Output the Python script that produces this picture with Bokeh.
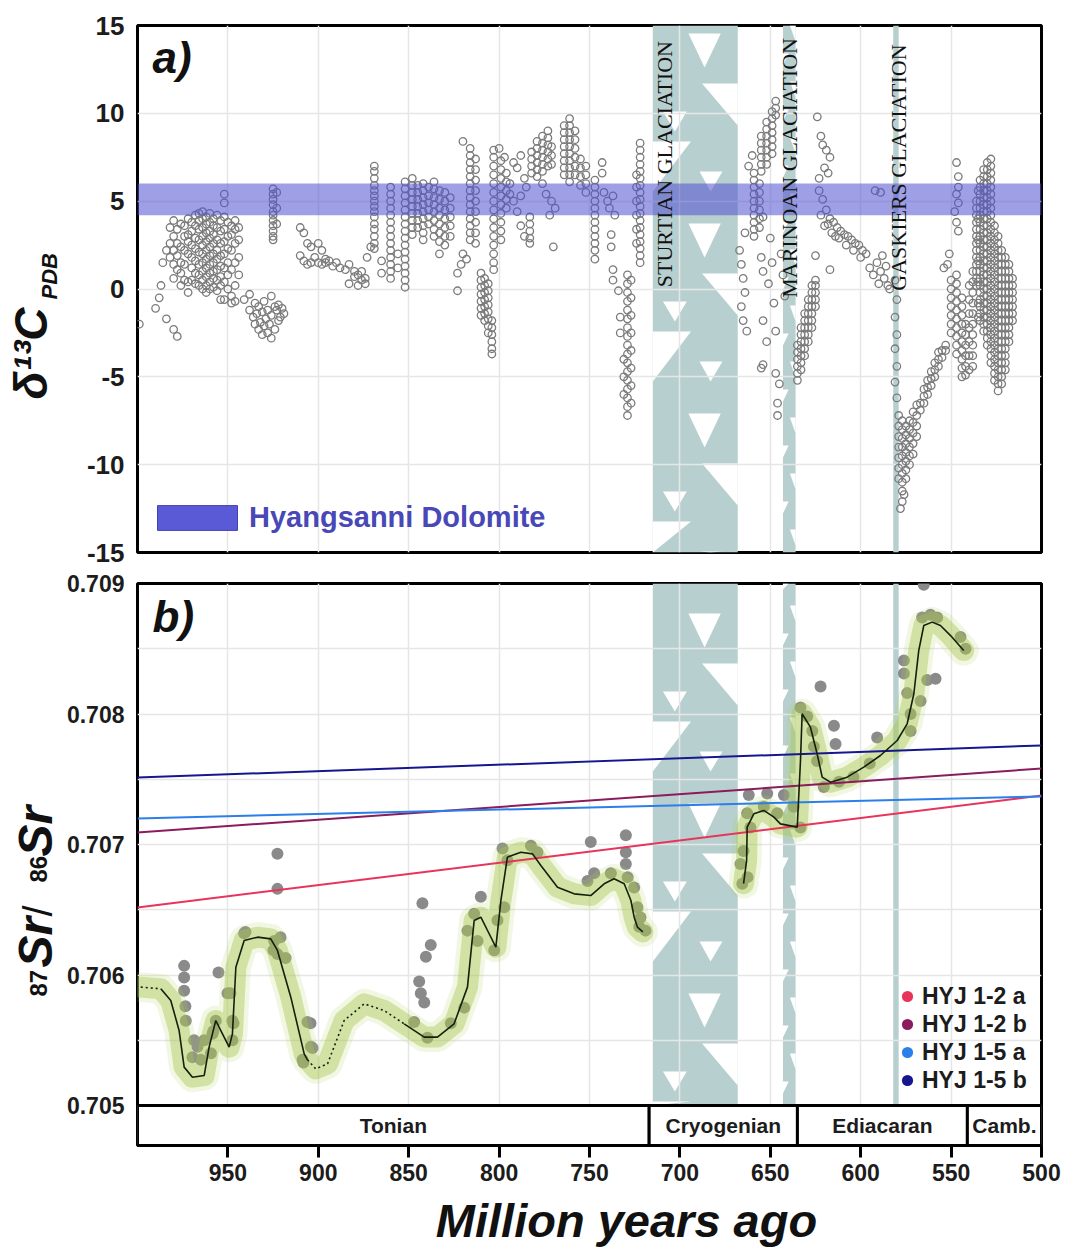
import math
import numpy as np
from bokeh.plotting import figure
from bokeh.layouts import column, row
from bokeh.models import Range1d, FixedTicker, Label, Legend, LegendItem
from bokeh.core.properties import value
from bokeh.embed import file_html
from bokeh.resources import INLINE

SANS = "Liberation Sans"
SERIF = "Liberation Serif"

# ---------------------------------------------------------------- axes / scale
AGE_OLD, AGE_YOUNG = 1000, 500
X_TICKS = [950, 900, 850, 800, 750, 700, 650, 600, 550, 500]
X_GRID = [950, 900, 850, 800, 750, 700, 650, 600, 550]
D13C_TICKS = [-15, -10, -5, 0, 5, 10, 15]
D13C_GRID = [-10, -5, 0, 5, 10]
SR_TICKS = [0.705, 0.706, 0.707, 0.708, 0.709]
SR_GRID = [0.7055, 0.706, 0.7065, 0.707, 0.7075, 0.708, 0.7085]
SR_MIN, SR_MAX = 0.705, 0.709
SR_AXIS_MIN = 0.7046935          # extra room under 0.705 for the time scale

# ---------------------------------------------------------------- time scale
PERIOD_NAMES = ["Tonian", "Cryogenian", "Ediacaran", "Camb."]
PERIOD_OLD = [1000, 717, 635, 541]
PERIOD_YOUNG = [717, 635, 541, 500]

# ---------------------------------------------------------------- glaciations
GLAC_NAMES = ["STURTIAN  GLACIATION", "MARINOAN  GLACIATION", "GASKIERS  GLACIATION"]
GLAC_OLD = [715, 643, 582]
GLAC_YOUNG = [668, 636, 579]
GLAC_LABEL_AGE = [708.5, 639.4, 579.2]
GLAC_LABEL_D13C = [0.1, -0.5, -0.1]

# ---------------------------------------------------------------- Hyangsanni Dolomite range
HYANGSANNI_LOW, HYANGSANNI_HIGH = 4.2, 6.0

# ---------------------------------------------------------------- d13C compilation (age, values)
D13C_COLUMNS = [
    (999, [-2.0]), (990, [-1.1]), (988, [-0.5]), (987, [0.2]), (986, [1.5]),
    (984, [-1.7, 2.2]), (982, [3.5, 2.6, 1.8]),
    (980, [3.9, 3.0, 2.2, 1.4, 0.6, -2.3]), (978, [3.4, 2.6, 1.9, 1.1, -2.7]),
    (976, [3.7, 2.4, 1.5, 0.9, 0.2]), (974, [3.6, 3.0, 2.2, 1.4, 0.5]),
    (972, [4.0, 3.1, 2.7, 2.0, 0.4, -0.2]), (970, [3.8, 3.3, 2.5, 1.8, 1.2, 0.5]),
    (968, [4.2, 3.6, 2.9, 2.3, 1.6, 0.9, 0.3]),
    (966, [4.3, 3.9, 3.4, 2.8, 2.1, 1.4, 0.8, 0.2]),
    (964, [4.4, 4.0, 3.5, 3.0, 2.5, 2.0, 1.5, 1.0, 0.5, 0.0]),
    (962, [4.1, 3.7, 3.2, 2.7, 2.2, 1.7, 1.2, 0.7, 0.2, -0.2]),
    (960, [4.3, 3.8, 3.3, 2.9, 2.4, 1.9, 1.4, 0.9, 0.4, 0.0]),
    (958, [4.0, 3.6, 3.1, 2.6, 2.0, 1.5, 1.0, 0.6, 0.1]),
    (956, [4.2, 3.5, 2.8, 2.2, 1.7, 1.1, 0.5, -0.1]),
    (954, [3.9, 3.3, 2.6, 1.9, 1.3, 0.7, 0.2, -0.6]),
    (952, [5.4, 4.9, 4.1, 3.4, 2.7, 2.0, 1.2, 0.4, -0.6]),
    (950, [3.8, 3.0, 2.3, 1.5, 0.8, 0.0]), (948, [3.6, 3.1, 2.2, 1.1, -0.4, -0.8]),
    (946, [3.9, 3.4, 2.6, 1.5, 0.2, -0.7]), (944, [3.5, 2.8, 1.8, 0.8]),
    (941, [-0.6]), (938, [-1.2, -0.3]), (936, [-1.6]), (935, [-2.0, -0.8]), (934, [-1.4]),
    (933, [-2.3, -1.0]), (932, [-1.9]), (931, [-2.6, -1.3]), (930, [-2.1, -0.7]),
    (929, [-1.7]), (928, [-2.5, -1.2]), (927, [-2.0]), (926, [-2.8, -0.4, -1.5]),
    (925, [5.7, 5.4, 5.1, 4.8, 4.4, 4.2, 3.9, 3.6, 3.3, 3.0, 2.8]),
    (924, [-2.3, -1.0]), (923, [5.5, 4.6, 3.7, -1.2]), (922, [-0.9, -1.8]),
    (921, [-1.6]), (920, [-1.1]), (919, [-1.4]),
    (910, [3.5, 1.9]), (908, [3.2, 1.6]), (906, [2.6, 1.4]), (904, [2.4, 1.5]), (902, [1.8]),
    (900, [2.6, 1.5]), (898, [2.2, 1.4]), (896, [1.7, 1.5]), (894, [1.6]), (892, [1.3]),
    (890, [1.5]), (888, [1.2]), (885, [1.1]), (883, [0.3, 1.4]), (880, [0.7, 1.0]),
    (878, [0.2, 0.8]), (876, [1.0, 0.5]), (874, [0.6, 0.3]), (873, [1.8]), (871, [2.4]),
    (869, [7.0, 6.7, 6.3, 5.9, 5.6, 5.3, 5.0, 4.7, 4.4, 4.1, 3.7, 3.4, 3.0, 2.6, 2.3]),
    (865, [0.9, 1.6]),
    (860, [5.8, 5.4, 5.0, 4.6, 4.2, 3.8, 3.4, 3.0, 2.6, 2.2, 1.8, 1.4, 1.0, 0.6]),
    (856, [1.2, 2.0]),
    (852, [6.1, 5.7, 5.3, 4.9, 4.5, 4.1, 3.7, 3.3, 2.9, 2.5, 2.1, 1.7, 1.3, 0.9, 0.5, 0.1]),
    (848, [6.3, 5.9, 5.5, 5.1, 4.7, 4.3, 3.9, 3.5, 3.1]),
    (845, [5.9, 5.5, 5.1, 4.7, 4.3, 3.9, 3.5]),
    (842, [6.0, 5.6, 5.2, 4.8, 4.4, 4.0, 3.6, 3.2, 2.8]),
    (839, [5.8, 5.3, 4.9, 4.5, 4.1, 3.7]),
    (836, [6.1, 5.7, 5.2, 4.8, 4.4, 3.9, 3.4, 3.0]),
    (833, [5.6, 5.1, 4.6, 4.2, 3.7, 3.2, 2.7, 2.0]),
    (830, [5.5, 5.0, 4.5, 4.0, 3.5, 3.0, 2.5]),
    (827, [5.2, 4.6, 4.1, 3.6, 3.0]),
    (823, [-0.1, 0.9]), (821, [1.4]), (820, [8.4, 2.0]), (818, [1.7]),
    (816, [8.0, 7.6, 7.2, 6.8, 6.4, 6.0, 5.6, 5.2, 4.8, 4.4, 4.0, 3.6, 3.2, 2.8]),
    (813, [7.4, 6.8, 6.2, 5.6, 5.0, 4.4, 3.8, 3.2, 2.6]),
    (810, [0.9, 0.5, 0.1, -0.3, -0.7, -1.1, -1.5]),
    (808, [0.6, 0.2, -0.2, -0.6, -1.0, -1.4, -1.8]),
    (806, [0.3, -0.1, -0.5, -0.9, -1.3, -1.7, -2.1, -2.5]),
    (804, [-1.8, -2.2, -2.6, -3.0, -3.4, -3.7]),
    (803, [7.9, 7.5, 7.0, 6.5, 6.0, 5.5, 5.0, 4.5, 4.0, 3.5, 3.0, 2.5, 2.0, 1.5, 1.1]),
    (800, [8.0]),
    (799, [7.3, 6.8, 6.3, 5.8, 5.3, 4.8, 4.3, 3.8, 3.3, 2.8]),
    (797, [7.5]), (796, [6.6, 6.1, 5.6, 5.1, 4.6]), (794, [6.0, 5.4]), (792, [7.2, 5.0]),
    (790, [6.9, 4.4]), (788, [7.6, 5.3, 3.6]), (786, [6.3, 3.0]), (785, [5.8]),
    (783, [4.1, 3.7, 3.3, 2.9, 2.6]), (782, [7.8, 7.4, 7.0, 6.6]),
    (779, [8.4, 8.0, 7.6, 7.2, 6.8, 6.4]), (776, [8.7, 8.3, 7.9, 7.5, 7.1, 6.7, 6.0]),
    (774, [5.4]), (773, [9.0, 8.6, 8.2, 7.8, 7.4, 7.0]), (772, [4.2]),
    (771, [8.1, 7.6, 7.1, 5.0]), (770, [2.4]), (769, [4.6]),
    (764, [9.3, 8.9, 8.5, 8.1, 7.7, 7.3, 6.9, 6.5]),
    (761, [9.7, 9.3, 8.9, 8.5, 8.1, 7.7, 7.3, 6.9, 6.5, 6.1]),
    (758, [9.0, 8.5, 8.0, 7.5, 7.0, 6.5]), (755, [7.4, 6.9, 6.4, 5.9]),
    (752, [7.0, 6.5, 6.0, 5.5]),
    (747, [6.2, 5.8, 5.4, 5.0, 4.6, 4.2, 3.8, 3.4, 3.0, 2.6, 2.2, 1.7]),
    (743, [7.2, 6.6]), (742, [5.5]), (740, [5.0]), (739, [4.6]), (738, [3.1, 2.4]),
    (737, [5.3, 1.1, 0.5]), (736, [4.2]), (734, [-0.1]), (733, [-1.6, -2.5]),
    (731, [-4.0, -5.0, -6.0]),
    (729, [0.8, 0.3, -0.2, -0.7, -1.2, -1.7, -2.2, -2.7, -3.2, -3.7, -4.2, -4.7, -5.2,
           -5.7, -6.2, -6.7, -7.2]),
    (727, [0.5, -0.5, -1.5, -2.5, -3.5, -4.5, -5.5, -6.5]),
    (724, [6.5, 5.8, 5.0, 4.2, 3.4, 2.6]),
    (722, [8.3, 7.9, 7.5, 7.1, 6.7, 6.3, 5.9, 5.5, 5.1, 4.7, 4.3, 3.9, 3.5, 3.1, 2.7,
           2.3, 1.9, 1.5]),
    (667, [2.2]), (666, [1.4, -1.0]), (665, [0.6, -1.8]), (664, [-0.2, 3.2]), (663, [-2.4]),
    (662, [7.0]), (660, [7.6]),
    (659, [6.6, 6.2, 5.8, 5.4, 5.0, 4.6, 4.2, 3.8, 3.4, 3.0]),
    (656, [6.0, 5.5, 5.0, 4.5, 4.0, 3.5]),
    (655, [8.7, 8.3, 7.9, 7.5, 7.1, 6.7, 1.8, -4.5]), (654, [4.1, 1.0, -1.8, -4.3]),
    (652, [9.5, 9.1, 8.7, 8.3, 7.9, 7.5, 7.1, -3.0]), (651, [0.3]), (650, [2.9]),
    (649, [10.1, 9.7, 9.3, 8.9, 8.5, 8.1, 7.7, 1.5]), (648, [-0.8]),
    (647, [10.7, 10.3, 9.9, -2.4, -4.8]), (646, [-6.5, -7.2]), (645, [-5.4]),
    (644, [2.0]), (643, [0.8]), (642, [-0.4]),
    (635, [-5.2, -4.8, -4.4, -4.0, -3.6, -3.2]),
    (633, [-4.6, -4.2, -3.8, -3.4, -3.0, -2.6, -2.2]),
    (631, [-3.8, -3.4, -3.0, -2.6, -2.2, -1.8, -1.4]),
    (629, [-3.0, -2.6, -2.2, -1.8, -1.4, -1.0, -0.6]),
    (627, [-2.2, -1.8, -1.4, -1.0, -0.6, -0.2, 0.2]),
    (625, [-1.0, -0.6, -0.2, 0.2, 0.5, 1.9]), (624, [9.8]), (623, [6.3, 5.6]),
    (622, [8.7, 4.2]), (621, [8.2, 5.1]), (620, [6.9, 3.6]), (619, [7.9, 4.5]),
    (618, [6.6, 3.7]), (617, [7.5, 4.0, 1.1]), (616, [3.2]), (615, [3.8]), (614, [3.0]),
    (613, [3.5]), (612, [2.9]), (611, [3.3]), (609, [3.1]), (608, [2.5]), (607, [3.0]),
    (605, [2.8]), (604, [2.2]), (603, [2.6]), (601, [2.5]), (600, [1.8]), (599, [2.2]),
    (597, [2.0]), (595, [1.2]), (593, [0.8]), (592, [5.6]), (591, [1.5]), (590, [0.3]),
    (589, [5.5, 1.0]), (588, [1.9]), (587, [0.6]), (586, [1.3]), (585, [0.2]), (584, [0.0]),
    (581, [0.5, -1.6, -3.4, -5.3]), (580, [-0.6, -2.6, -4.4, -6.2]),
    (579, [-7.2, -7.8, -8.4, -9.0, -9.6, -10.2, -10.8]), (578, [-12.5]),
    (577, [-7.5, -8.0, -8.5, -9.0, -9.5, -10.0, -10.5, -11.0, -11.5, -12.1]),
    (576, [-11.7]), (575, [-7.8, -8.3, -8.8, -9.3, -9.8, -10.3, -10.8]),
    (573, [-7.5, -8.0, -8.5, -9.0, -9.5, -10.0]), (571, [-7.0, -7.6, -8.2, -8.8, -9.4]),
    (569, [-6.6, -7.2, -7.8, -8.4]), (567, [-6.9, -6.5]), (565, [-6.5, -6.1, -5.7]),
    (563, [-6.0, -5.6, -5.2]), (561, [-5.5, -5.1, -4.7]), (559, [-5.0, -4.6, -4.2]),
    (557, [-4.4, -4.0, -3.6]), (555, [-3.9, -3.5]), (554, [1.2]), (553, [-3.5, -3.2]),
    (552, [1.4]), (551, [2.0]), (550, [0.5, 0.0, -0.5, -1.0, -1.5, -2.0, -2.5]),
    (548, [4.4]),
    (547, [7.2, 5.4, 3.8, 0.8, 0.3, -0.2, -0.7, -1.2, -1.7, -2.2, -2.7, -3.2, -3.7]),
    (546, [6.4, 5.8, 4.9, 3.3]),
    (544, [-0.5, -1.0, -1.5, -2.0, -2.5, -3.0, -3.5, -4.0, -4.5, -5.0]),
    (542, [-2.0, -2.6, -3.2, -3.8, -4.4, -4.9]),
    (540, [0.2, -0.6, -1.4, -2.2, -3.0, -3.8, -4.6]),
    (538, [1.0, 0.4, -0.2, -0.8, -1.4, -2.0, -2.6, -3.2, -3.8, -4.4]),
    (536, [5.0, 4.6, 4.2, 3.8, 3.4, 3.0, 2.6, 2.2, 1.8, 1.4, 1.0, 0.6, 0.2]),
    (535, [5.6, 4.0, 2.8, 1.6, 0.4, -0.8, -1.6]),
    (534, [6.2, 5.8, 5.4, 5.0, 4.6, 4.2, 3.8, 3.4, 3.0, 2.6, 2.2, 1.8, 1.4, 1.0, 0.6, 0.2,
           -0.2, -0.6, -1.0, -1.4, -1.8]),
    (532, [6.8, 6.4, 6.0, 5.6, 5.2, 4.8, 4.4, 4.0, 3.6, 3.2, 2.8, 2.4, 2.0, 1.6, 1.2, 0.8,
           0.4, 0.0, -0.4, -0.8, -1.2, -1.6, -2.0, -2.4]),
    (530, [7.2, 6.8, 6.4, 6.0, 5.6, 5.2, 4.8, 4.4, 4.0, 3.6, 3.2, 2.8, 2.4, 2.0, 1.6, 1.2,
           0.8, 0.4, 0.0, -0.4, -0.8, -1.2, -1.6, -2.0, -2.4, -2.8, -3.2]),
    (528, [7.4, 7.0, 6.6, 6.2, 5.8, 5.4, 5.0, 4.6, 4.2, 3.8, 3.4, 3.0, 2.6, 2.2, 1.8, 1.4,
           1.0, 0.6, 0.2, -0.2, -0.6, -1.0, -1.4, -1.8, -2.2, -2.6, -3.0, -3.4, -3.8, -4.2]),
    (526, [3.6, 3.2, 2.8, 2.4, 2.0, 1.6, 1.2, 0.8, 0.4, 0.0, -0.4, -0.8, -1.2, -1.6, -2.0,
           -2.4, -2.8, -3.2, -3.6, -4.0, -4.4, -4.8, -5.2]),
    (524, [3.0, 2.6, 2.2, 1.8, 1.4, 1.0, 0.6, 0.2, -0.2, -0.6, -1.0, -1.4, -1.8, -2.2, -2.6,
           -3.0, -3.4, -3.8, -4.2, -4.6, -5.0, -5.4, -5.8]),
    (522, [2.2, 1.8, 1.4, 1.0, 0.6, 0.2, -0.2, -0.6, -1.0, -1.4, -1.8, -2.2, -2.6, -3.0,
           -3.4, -3.8, -4.2, -4.6, -5.0, -5.4]),
    (520, [1.8, 1.4, 1.0, 0.6, 0.2, -0.2, -0.6, -1.0, -1.4, -1.8, -2.2, -2.6, -3.0, -3.4,
           -3.8, -4.2, -4.6]),
    (518, [1.4, 1.0, 0.6, 0.2, -0.2, -0.6, -1.0, -1.4, -1.8, -2.2, -2.6, -3.0]),
    (516, [0.6, 0.2, -0.2, -0.6, -1.0, -1.4, -1.8]),
]

# ---------------------------------------------------------------- 87Sr/86Sr compilation
SR_POINTS = [
    (974.2, 0.70607), (974.2, 0.70598), (974.2, 0.70588), (973.5, 0.70576), (973.3, 0.70565),
    (968.7, 0.70550), (966.8, 0.70545), (969.6, 0.70537), (965.0, 0.70535), (963.1, 0.70550),
    (959.4, 0.70540), (958.5, 0.70555), (958.0, 0.70557), (956.7, 0.70565), (955.2, 0.70602),
    (950.2, 0.70586), (948.6, 0.70586), (947.5, 0.70565), (946.9, 0.70563), (947.5, 0.70550),
    (941.0, 0.70632), (940.3, 0.70633), (924.8, 0.70619), (924.4, 0.70626), (922.6, 0.70616),
    (920.9, 0.70629), (918.1, 0.70613), (922.6, 0.70693), (922.6, 0.70666), (908.2, 0.70533),
    (906.0, 0.70564), (904.3, 0.70563), (904.1, 0.70545), (903.2, 0.70544), (908.7, 0.70535),
    (842.4, 0.70655), (837.8, 0.70623), (840.5, 0.70614), (844.2, 0.70595), (843.3, 0.70586),
    (841.4, 0.70579), (847.0, 0.70564), (839.6, 0.70552), (826.7, 0.70563), (819.3, 0.70575),
    (817.5, 0.70634), (813.8, 0.70647), (810.1, 0.70660), (811.9, 0.70626), (802.7, 0.70619),
    (800.9, 0.70642), (797.2, 0.70652), (798.1, 0.70697), (795.4, 0.70688), (782.4, 0.70699),
    (778.8, 0.70694), (751.1, 0.70672), (749.3, 0.70702), (747.4, 0.70678), (738.2, 0.70678),
    (729.9, 0.70707), (729.9, 0.70694), (729.9, 0.70685), (728.9, 0.70675), (725.3, 0.70667),
    (723.5, 0.70652), (722.5, 0.70637), (721.8, 0.70644), (719.0, 0.70634),
    (664.8, 0.70695), (666.5, 0.70685), (662.6, 0.70675), (665.5, 0.70670), (662.8, 0.70724),
    (661.0, 0.70713), (653.6, 0.70729), (646.2, 0.70724), (637.0, 0.70729), (633.3, 0.70713),
    (661.9, 0.70738), (651.7, 0.70739), (642.5, 0.70738), (633.3, 0.70805), (629.6, 0.70798),
    (626.8, 0.70787), (625.9, 0.70775), (624.1, 0.70764), (620.4, 0.70744), (622.2, 0.70821),
    (614.8, 0.70791), (613.9, 0.70777), (590.9, 0.70782), (576.1, 0.70841), (576.1, 0.70831),
    (574.3, 0.70816), (572.4, 0.70800), (572.4, 0.70787), (566.9, 0.70810), (563.2, 0.70826),
    (566.0, 0.70874), (561.4, 0.70876), (557.7, 0.70874), (544.8, 0.70859), (542.0, 0.70850),
    (565.1, 0.70899), (558.6, 0.70827), (612.0, 0.70748), (604.0, 0.70752), (595.0, 0.70762),
]

# smoothed seawater curve, pre-Sturtian part and post-Sturtian part
CURVE_PRE = [
    (998.2, 0.705907), (987.1, 0.705894), (981.6, 0.705805), (977.0, 0.705575),
    (974.2, 0.705294), (969.6, 0.705217), (963.1, 0.705230), (960.4, 0.705447),
    (956.7, 0.705651), (953.0, 0.705549), (949.3, 0.705447), (947.5, 0.705549),
    (945.6, 0.706060), (941.0, 0.706264), (933.6, 0.706290), (926.3, 0.706277),
    (922.6, 0.706188), (915.2, 0.705830), (907.8, 0.705396), (906.0, 0.705350),
    (901.4, 0.705281), (894.9, 0.705319), (885.7, 0.705651), (874.6, 0.705779),
    (863.6, 0.705728), (852.5, 0.705626), (841.4, 0.705524), (834.1, 0.705524),
    (824.9, 0.705626), (817.5, 0.705907), (813.8, 0.706417), (810.1, 0.706443),
    (806.4, 0.706341), (801.8, 0.706213), (799.0, 0.706571), (795.4, 0.706903),
    (788.0, 0.706941), (781.5, 0.706928), (776.9, 0.706839), (767.7, 0.706673),
    (758.5, 0.706622), (749.3, 0.706609), (741.9, 0.706699), (736.4, 0.706737),
    (730.8, 0.706699), (727.1, 0.706571), (725.3, 0.706443), (723.5, 0.706367),
    (720.5, 0.706330),
]
CURVE_POST = [
    (664.8, 0.706700), (663.1, 0.706877), (662.8, 0.707133), (659.1, 0.707235),
    (653.6, 0.707261), (648.0, 0.707210), (644.4, 0.707158), (635.1, 0.707133),
    (633.3, 0.707644), (632.4, 0.708002), (627.8, 0.707899), (624.1, 0.707695),
    (621.3, 0.707516), (616.7, 0.707477), (607.5, 0.707516), (598.3, 0.707593),
    (589.1, 0.707682), (579.8, 0.707797), (574.3, 0.707925), (570.6, 0.708155),
    (567.9, 0.708486), (565.1, 0.708678), (560.5, 0.708704), (555.9, 0.708678),
    (550.3, 0.708601), (543.0, 0.708486),
]
# age intervals where the curve is poorly constrained (dotted)
DOTTED_SPANS = [(998.2, 987.1), (906.0, 852.5)]

# Hyangsanni samples: age-corrected initial ratios at 1000 and 500 Ma
SAMPLE_NAMES = ["HYJ 1-2 a", "HYJ 1-2 b", "HYJ 1-5 a", "HYJ 1-5 b"]
SAMPLE_COLORS = ["#e8345c", "#8a1b5c", "#2b7fe8", "#16168f"]
SAMPLE_AT_OLD = [0.706517, 0.707092, 0.707200, 0.707513]
SAMPLE_AT_YOUNG = [0.707375, 0.707582, 0.707368, 0.707759]

# ---------------------------------------------------------------- layout
LABEL_W = 62                 # strip holding the vertical axis titles
AXIS_W = 137 - LABEL_W       # room for the tick labels
FRAME_W = 904
A_H, B_H = 527, 562
A_TOTAL = 25 + A_H + 15
B_TOTAL = 16 + B_H + 48
TITLE_H = 1252 - A_TOTAL - B_TOTAL
BAND_FILL = "#b8cfcf"
GRID_COLOR = "#e6e6e6"

# white diamictite symbols drawn inside the glaciation bands (u across band, px down)
STURT_MOTIF = [
    ([0.42, 0.80, 0.61], [8, 8, 42]),
    ([0.58, 1.00, 1.00], [58, 58, 100]),
    ([0.12, 0.40, 0.26], [86, 86, 106]),
    ([0.00, 0.45, 0.00], [116, 116, 166]),
    ([0.55, 0.82, 0.68], [146, 146, 166]),
]
MARIN_MOTIF = [
    ([0.55, 1.00, 1.00], [0, 0, 16]),
    ([0.00, 0.45, 0.00], [28, 28, 40]),
]


def band_marks(old, young, top, px_per_unit, height_px, period, phase, motif):
    xs, ys = [], []
    k = -1
    while phase + k * period <= height_px:
        base = phase + k * period
        for us, ds in motif:
            dd = [base + d for d in ds]
            if max(dd) < 0 or min(dd) > height_px:
                continue
            dd = [min(max(d, 0), height_px) for d in dd]
            xs.append([old - u * (old - young) for u in us])
            ys.append([top - d / px_per_unit for d in dd])
        k += 1
    return xs, ys


def draw_glaciations(p, top, bottom, px_per_unit, height_px, phase):
    p.quad(left=GLAC_OLD, right=GLAC_YOUNG, top=[top] * 3, bottom=[bottom] * 3,
           fill_color=BAND_FILL, line_color=None, level="image")
    xs, ys = band_marks(GLAC_OLD[0], GLAC_YOUNG[0], top, px_per_unit, height_px, 190, phase,
                        STURT_MOTIF)
    xs2, ys2 = band_marks(GLAC_OLD[1], GLAC_YOUNG[1], top, px_per_unit, height_px, 56, phase,
                          MARIN_MOTIF)
    p.patches(xs + xs2, ys + ys2, fill_color="white", line_color=None, level="image")


def style(p):
    p.outline_line_color = "black"
    p.outline_line_width = 3
    p.background_fill_color = "white"
    p.border_fill_color = "white"
    p.grid.grid_line_color = GRID_COLOR
    p.grid.grid_line_width = 1.5
    p.yaxis.axis_line_color = None
    p.yaxis.major_tick_line_color = None
    p.yaxis.minor_tick_line_color = None
    p.yaxis.major_label_text_font = SANS
    p.yaxis.major_label_text_font_style = "bold"
    p.yaxis.major_label_text_color = "#1c1c1c"
    p.yaxis.major_label_standoff = 7


def text_strip(w, h):
    f = figure(x_range=Range1d(0, w), y_range=Range1d(0, h), frame_width=w, frame_height=h,
               min_border=0, x_axis_location=None, y_axis_location=None,
               output_backend="svg", toolbar_location=None)
    f.outline_line_color = None
    f.grid.grid_line_color = None
    f.background_fill_color = "white"
    f.border_fill_color = "white"
    return f


def add_text(f, x, y, txt, size, fstyle, angle=0.0, align="left"):
    f.add_layout(Label(x=x, y=y, x_units="screen", y_units="screen", text=txt,
                       angle=angle, text_align=align, text_font=SANS,
                       text_font_size=size, text_font_style=fstyle, text_color="#111111"))


NAN1 = np.array([np.nan])

# ================================================================ panel a
pa = figure(x_range=Range1d(AGE_OLD, AGE_YOUNG), y_range=Range1d(-15, 15),
            frame_width=FRAME_W, frame_height=A_H, x_axis_location=None,
            min_border_left=AXIS_W, min_border_right=28, min_border_top=25,
            min_border_bottom=15, output_backend="svg", toolbar_location=None)
style(pa)
pa.yaxis.ticker = FixedTicker(ticks=D13C_TICKS)
pa.yaxis.major_label_overrides = {t: str(t) for t in D13C_TICKS}
pa.yaxis.major_label_text_font_size = "26px"
pa.xgrid.ticker = FixedTicker(ticks=X_GRID)
pa.ygrid.ticker = FixedTicker(ticks=D13C_GRID)

draw_glaciations(pa, 15, -15, A_H / 30.0, A_H, 0)

c_age, c_val = [], []
for age, vals in D13C_COLUMNS:
    for v in vals:
        c_age.append(age)
        c_val.append(v)
pa.scatter(c_age, c_val, marker="circle", size=7.5, fill_color=None,
           line_color="#7b7b7b", line_width=1.3)

pa.quad(left=[AGE_OLD], right=[AGE_YOUNG], bottom=[HYANGSANNI_LOW], top=[HYANGSANNI_HIGH],
        fill_color="#5050d0", fill_alpha=0.55, line_color=None)

pa.text(x=GLAC_LABEL_AGE, y=GLAC_LABEL_D13C, text=GLAC_NAMES, angle=math.pi / 2,
        text_align="left", text_baseline="middle", text_font=value(SERIF),
        text_font_size="22px", text_color="#111111")

hy_key = pa.quad(left=NAN1, right=NAN1, top=NAN1, bottom=NAN1, fill_color="#5a5ad6",
                 line_color="#4242b4", line_width=1)
leg_a = Legend(items=[LegendItem(label="Hyangsanni Dolomite", renderers=[hy_key])],
               location=(10, 18), glyph_width=100, glyph_height=31, label_standoff=2,
               label_text_font=SANS, label_text_font_size="29px",
               label_text_font_style="bold", label_text_color="#4848b6",
               background_fill_alpha=0, border_line_color=None, padding=0, margin=0)
pa.add_layout(leg_a)

pa.add_layout(Label(x=15, y=471, x_units="screen", y_units="screen", text="a)",
                    text_font=SANS, text_font_size="44px", text_font_style="bold italic",
                    text_color="#111111"))

# vertical title of panel a
la = text_strip(LABEL_W, A_TOTAL)
add_text(la, 56, A_TOTAL - 374, "δ¹³C", "46px", "bold italic", angle=math.pi / 2)
add_text(la, 61, A_TOTAL - 274, "PDB", "22px", "bold italic", angle=math.pi / 2)

# ================================================================ panel b
pb = figure(x_range=Range1d(AGE_OLD, AGE_YOUNG), y_range=Range1d(SR_AXIS_MIN, SR_MAX),
            frame_width=FRAME_W, frame_height=B_H,
            min_border_left=AXIS_W, min_border_right=28, min_border_top=16,
            min_border_bottom=48, output_backend="svg", toolbar_location=None)
style(pb)
pb.yaxis.ticker = FixedTicker(ticks=SR_TICKS)
pb.yaxis.major_label_overrides = {t: "%.3f" % t for t in SR_TICKS}
pb.yaxis.major_label_text_font_size = "23px"
pb.xgrid.ticker = FixedTicker(ticks=X_GRID)
pb.ygrid.ticker = FixedTicker(ticks=SR_GRID)
pb.xaxis.ticker = FixedTicker(ticks=X_TICKS)
pb.xaxis.major_label_overrides = {t: str(t) for t in X_TICKS}
pb.xaxis.axis_line_color = "black"
pb.xaxis.axis_line_width = 3
pb.xaxis.major_tick_line_width = 3
pb.xaxis.major_tick_line_color = "black"
pb.xaxis.major_tick_out = 12
pb.xaxis.major_tick_in = 0
pb.xaxis.minor_tick_line_color = None
pb.xaxis.major_label_text_font = SANS
pb.xaxis.major_label_text_font_style = "bold"
pb.xaxis.major_label_text_font_size = "23px"
pb.xaxis.major_label_text_color = "#1c1c1c"
pb.xaxis.major_label_standoff = 6

sr_px = B_H / (SR_MAX - SR_AXIS_MIN)
draw_glaciations(pb, SR_MAX, SR_MIN, sr_px, (SR_MAX - SR_MIN) * sr_px, 22)

pb.scatter([a for a, _ in SR_POINTS], [v for _, v in SR_POINTS], marker="circle", size=12,
           fill_color="#8a8a8a", line_color=None)

for curve in (CURVE_PRE, CURVE_POST):
    ages = [a for a, _ in curve]
    vals = [v for _, v in curve]
    pb.line(ages, vals, line_width=30, line_color="#b4d060", line_alpha=0.18,
            line_cap="round", line_join="round")
    pb.line(ages, vals, line_width=21, line_color="#a6c652", line_alpha=0.42,
            line_cap="round", line_join="round")

for name, col, v0, v1 in zip(SAMPLE_NAMES, SAMPLE_COLORS, SAMPLE_AT_OLD, SAMPLE_AT_YOUNG):
    pb.line([AGE_OLD, AGE_YOUNG], [v0, v1], line_color=col, line_width=2)


def is_dotted(a0, a1):
    mid = 0.5 * (a0 + a1)
    return any(lo >= mid >= hi for lo, hi in DOTTED_SPANS)


for curve in (CURVE_PRE, CURVE_POST):
    runs = []
    for i in range(len(curve) - 1):
        d = is_dotted(curve[i][0], curve[i + 1][0])
        if runs and runs[-1][0] == d:
            runs[-1][1].append(curve[i + 1])
        else:
            runs.append([d, [curve[i], curve[i + 1]]])
    for d, pts in runs:
        pb.line([a for a, _ in pts], [v for _, v in pts], line_color="#15200c",
                line_width=1.6, line_dash="2 3" if d else "solid")

# geological time scale along the bottom
pb.quad(left=PERIOD_OLD, right=PERIOD_YOUNG, top=[SR_MIN] * 4, bottom=[SR_AXIS_MIN] * 4,
        fill_color="white", line_color="black", line_width=3)
pb.text(x=[0.5 * (a + b) for a, b in zip(PERIOD_OLD, PERIOD_YOUNG)],
        y=[0.5 * (SR_MIN + SR_AXIS_MIN)] * 4, text=PERIOD_NAMES,
        text_align="center", text_baseline="middle", text_font=value(SANS),
        text_font_size="21px", text_font_style="bold", text_color="#1c1c1c")

keys = [pb.scatter(NAN1, NAN1, marker="circle", size=12, fill_color=c, line_color=None)
        for c in SAMPLE_COLORS]
leg_b = Legend(items=[LegendItem(label=n, renderers=[r]) for n, r in zip(SAMPLE_NAMES, keys)],
               location=(755, 51), glyph_width=30, glyph_height=28, label_height=28,
               spacing=0, label_standoff=0, label_text_font=SANS,
               label_text_font_size="23px", label_text_font_style="bold",
               label_text_color="#1c1c1c", background_fill_alpha=0,
               border_line_color=None, padding=0, margin=0)
pb.add_layout(leg_b)

pb.add_layout(Label(x=15, y=505, x_units="screen", y_units="screen", text="b)",
                    text_font=SANS, text_font_size="44px", text_font_style="bold italic",
                    text_color="#111111"))

# vertical title of panel b, built from pieces (page y measured from the strip top)
lb = text_strip(LABEL_W, B_TOTAL)
b_top = A_TOTAL
for txt, xs, py, size, fstyle in [
    ("87", 46, 980, "24px", "bold"),
    ("Sr", 61, 951, "48px", "bold italic"),
    ("/", 59, 900, "40px", "normal"),
    ("86", 46, 866, "24px", "bold"),
    ("Sr", 61, 840, "48px", "bold italic"),
]:
    add_text(lb, xs, B_TOTAL - (py - b_top), txt, size, fstyle, angle=math.pi / 2)

# shared horizontal title
lt = text_strip(LABEL_W + AXIS_W + FRAME_W + 28, TITLE_H)
add_text(lt, 626, 6, "Million years ago", "47px", "bold italic", align="center")

layout = column(row(la, pa), row(lb, pb), lt, spacing=0)
open("out.html", "w").write(file_html(layout, INLINE))
